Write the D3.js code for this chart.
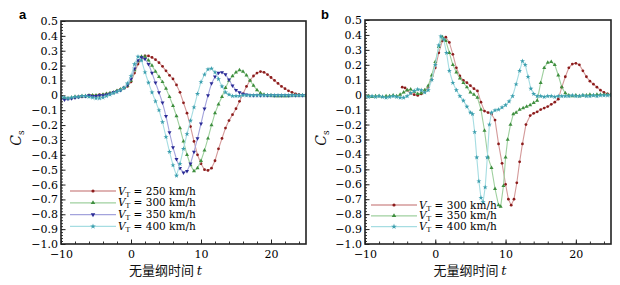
<!DOCTYPE html>
<html>
<head>
<meta charset="utf-8">
<script src="https://cdn.jsdelivr.net/npm/d3@7"></script>
<style>
  body { margin: 0; background: #fff; }
  svg { display: block; }
</style>
</head>
<body>
<svg id="chart"></svg>
<script>
// ---- data: [t, Cs] ----
const a250 = [[-10,-0.015],[-9.5,-0.02],[-9,-0.02],[-8.5,-0.02],[-8,-0.015],[-7.5,-0.01],[-7,-0.01],[-6.5,-0.005],[-6,0],[-5.5,0],[-5,0],[-4.5,0.005],[-4,0.005],[-3.5,0.01],[-3,0.015],[-2.5,0.02],[-2,0.03],[-1.5,0.04],[-1,0.05],[-0.5,0.06],[0,0.09],[0.5,0.15],[1,0.21],[1.5,0.25],[2,0.265],[2.5,0.265],[3,0.255],[3.5,0.24],[4,0.22],[4.5,0.195],[5,0.165],[5.5,0.135],[6,0.11],[6.5,0.07],[7,0.02],[7.5,-0.05],[8,-0.12],[8.5,-0.21],[9,-0.31],[9.5,-0.4],[10,-0.46],[10.5,-0.5],[11,-0.505],[11.5,-0.49],[12,-0.44],[12.5,-0.36],[13,-0.29],[13.5,-0.22],[14,-0.17],[14.5,-0.13],[15,-0.09],[15.5,-0.04],[16,0.01],[16.5,0.06],[17,0.1],[17.5,0.13],[18,0.15],[18.5,0.16],[19,0.155],[19.5,0.14],[20,0.12],[20.5,0.1],[21,0.08],[21.5,0.06],[22,0.045],[22.5,0.03],[23,0.02],[23.5,0.01],[24,0.005],[24.5,0],[25,0]];
const a300 = [[-10,-0.015],[-9.5,-0.02],[-9,-0.02],[-8.5,-0.015],[-8,-0.01],[-7.5,-0.01],[-7,-0.005],[-6.5,-0.005],[-6,0],[-5.5,0],[-5,0],[-4.5,0],[-4,0.005],[-3.5,0.01],[-3,0.015],[-2.5,0.02],[-2,0.03],[-1.5,0.04],[-1,0.05],[-0.5,0.065],[0,0.1],[0.5,0.17],[1,0.23],[1.5,0.26],[2,0.26],[2.5,0.235],[3,0.2],[3.5,0.16],[4,0.125],[4.5,0.09],[5,0.045],[5.5,-0.01],[6,-0.07],[6.5,-0.14],[7,-0.22],[7.5,-0.31],[8,-0.4],[8.5,-0.47],[9,-0.51],[9.5,-0.49],[10,-0.44],[10.5,-0.37],[11,-0.29],[11.5,-0.2],[12,-0.12],[12.5,-0.06],[13,-0.01],[13.5,0.05],[14,0.1],[14.5,0.13],[15,0.155],[15.5,0.17],[16,0.16],[16.5,0.135],[17,0.1],[17.5,0.065],[18,0.035],[18.5,0.015],[19,0.005],[19.5,0],[20,0],[20.5,-0.005],[21,-0.005],[21.5,-0.005],[22,-0.005],[22.5,-0.005],[23,0],[23.5,0],[24,0],[24.5,0],[25,0]];
const a350 = [[-10,-0.025],[-9.5,-0.03],[-9,-0.025],[-8.5,-0.02],[-8,-0.015],[-7.5,-0.01],[-7,-0.005],[-6.5,-0.005],[-6,0],[-5.5,-0.005],[-5,-0.005],[-4.5,0],[-4,0],[-3.5,0.005],[-3,0.01],[-2.5,0.02],[-2,0.025],[-1.5,0.035],[-1,0.05],[-0.5,0.07],[0,0.11],[0.5,0.18],[1,0.235],[1.5,0.255],[2,0.245],[2.5,0.21],[3,0.15],[3.5,0.085],[4,0.02],[4.5,-0.05],[5,-0.14],[5.5,-0.25],[6,-0.35],[6.5,-0.43],[7,-0.49],[7.5,-0.52],[8,-0.51],[8.5,-0.46],[9,-0.38],[9.5,-0.29],[10,-0.19],[10.5,-0.09],[11,0],[11.5,0.08],[12,0.125],[12.5,0.15],[13,0.155],[13.5,0.14],[14,0.105],[14.5,0.065],[15,0.035],[15.5,0.02],[16,0.01],[16.5,0.005],[17,0],[17.5,0],[18,0],[18.5,0],[19,0],[19.5,0],[20,0],[20.5,0],[21,0],[21.5,0],[22,0],[22.5,0],[23,0],[23.5,0],[24,0],[24.5,0],[25,0]];
const a400 = [[-10,-0.01],[-9.5,-0.015],[-9,-0.02],[-8.5,-0.015],[-8,-0.01],[-7.5,-0.01],[-7,-0.005],[-6.5,-0.005],[-6,-0.01],[-5.5,-0.015],[-5,-0.02],[-4.5,-0.02],[-4,-0.015],[-3.5,-0.005],[-3,0.005],[-2.5,0.015],[-2,0.025],[-1.5,0.035],[-1,0.05],[-0.5,0.08],[0,0.13],[0.5,0.21],[1,0.26],[1.5,0.235],[2,0.155],[2.5,0.085],[3,0.02],[3.5,-0.04],[4,-0.1],[4.5,-0.18],[5,-0.28],[5.5,-0.38],[6,-0.47],[6.5,-0.54],[7,-0.46],[7.5,-0.36],[8,-0.26],[8.5,-0.17],[9,-0.08],[9.5,0.01],[10,0.09],[10.5,0.14],[11,0.175],[11.5,0.18],[12,0.155],[12.5,0.11],[13,0.06],[13.5,0.02],[14,0.005],[14.5,-0.005],[15,-0.005],[15.5,-0.005],[16,0],[16.5,0],[17,0],[17.5,0],[18,0],[18.5,0],[19,0],[19.5,0],[20,0],[20.5,0],[21,0],[21.5,0],[22,0],[22.5,0],[23,0],[23.5,0],[24,0],[24.5,0],[25,0]];

const b300 = [[-4.7,0.05],[-4.3,0.045],[-4,0.03],[-3.5,0.01],[-3,0],[-2.5,-0.005],[-2,0.005],[-1.5,0.02],[-1,0.05],[-0.5,0.1],[0,0.18],[0.5,0.28],[1,0.36],[1.5,0.385],[2,0.35],[2.5,0.27],[3,0.18],[3.5,0.125],[4,0.095],[4.5,0.08],[5,0.06],[5.5,0.04],[6,0.025],[6.5,-0.05],[7,-0.11],[7.5,-0.12],[8,-0.13],[8.5,-0.17],[9,-0.33],[9.5,-0.46],[10,-0.6],[10.4,-0.7],[10.8,-0.74],[11.2,-0.7],[11.6,-0.59],[12,-0.45],[12.4,-0.33],[12.9,-0.2],[13.5,-0.14],[14,-0.125],[14.5,-0.115],[15,-0.1],[15.5,-0.09],[16,-0.08],[16.5,-0.065],[17,-0.05],[17.5,-0.03],[18,0.05],[18.5,0.12],[19,0.18],[19.5,0.205],[20,0.21],[20.5,0.2],[21,0.16],[21.5,0.12],[22,0.09],[22.5,0.07],[23,0.05],[23.5,0.03],[24,0.015],[24.5,0.005],[25,0]];
const b350 = [[-10,-0.01],[-9.5,-0.01],[-9,-0.015],[-8.5,-0.01],[-8,-0.01],[-7.5,-0.015],[-7,-0.01],[-6.5,-0.01],[-6,-0.005],[-5.5,-0.01],[-5,0],[-4.5,0.015],[-4,0.03],[-3.5,0.035],[-3,0.02],[-2.5,0.005],[-2,0.01],[-1.5,0.03],[-1,0.06],[-0.5,0.13],[0,0.22],[0.5,0.32],[1,0.385],[1.5,0.36],[2,0.28],[2.5,0.2],[3,0.15],[3.5,0.11],[4,0.08],[4.5,0.05],[5,0.015],[5.5,0],[6,-0.02],[6.5,-0.1],[7,-0.24],[7.5,-0.42],[8,-0.49],[8.5,-0.63],[9,-0.74],[9.3,-0.75],[9.7,-0.61],[10,-0.42],[10.3,-0.3],[10.7,-0.2],[11.1,-0.13],[11.5,-0.12],[12,-0.1],[12.5,-0.09],[13,-0.08],[13.5,-0.07],[14,-0.055],[14.5,-0.04],[15,0.08],[15.5,0.18],[16,0.215],[16.5,0.22],[17,0.2],[17.5,0.13],[18,0.05],[18.5,0.01],[19,-0.005],[19.5,-0.01],[20,-0.005],[20.5,-0.01],[21,-0.005],[21.5,-0.005],[22,0],[22.5,-0.005],[23,0],[23.5,0],[24,0],[24.5,0],[25,0]];
const b400 = [[-10,-0.01],[-9.5,-0.015],[-9,-0.01],[-8.5,-0.015],[-8,-0.01],[-7.5,-0.015],[-7,-0.02],[-6.5,-0.015],[-6,-0.01],[-5.5,-0.015],[-5,-0.02],[-4.5,-0.02],[-4,-0.01],[-3.5,0.01],[-3,0.025],[-2.5,0.035],[-2,0.03],[-1.5,0.015],[-1,0.03],[-0.5,0.1],[0,0.2],[0.5,0.33],[0.8,0.39],[1.2,0.37],[1.6,0.28],[2,0.16],[2.5,0.08],[3,0.03],[3.5,-0.01],[4,-0.04],[4.5,-0.08],[5,-0.12],[5.3,-0.13],[5.6,-0.25],[5.9,-0.42],[6.2,-0.58],[6.5,-0.69],[6.8,-0.72],[7.1,-0.62],[7.4,-0.42],[7.7,-0.2],[8,-0.12],[8.5,-0.105],[9,-0.1],[9.5,-0.085],[10,-0.07],[10.5,-0.045],[11,-0.01],[11.5,0.07],[12,0.16],[12.4,0.225],[12.8,0.2],[13.2,0.12],[13.6,0.04],[14,0.005],[14.5,-0.01],[15,-0.01],[15.5,-0.015],[16,-0.01],[16.5,-0.01],[17,-0.015],[17.5,-0.01],[18,-0.01],[18.5,-0.01],[19,-0.01],[19.5,-0.005],[20,-0.01],[20.5,-0.01],[21,-0.005],[21.5,-0.01],[22,-0.01],[22.5,-0.005],[23,-0.01],[23.5,-0.005],[24,-0.005],[24.5,-0.005],[25,-0.005]];

const speedsA = [250, 300, 350, 400];
const speedsB = [300, 350, 400];
const xTicks = [-10, 0, 10, 20];
const yTicks = [0.5, 0.4, 0.3, 0.2, 0.1, 0, -0.1, -0.2, -0.3, -0.4, -0.5, -0.6, -0.7, -0.8, -0.9, -1.0];
const xLabel = '无量纲时间 ';

const serif = '"DejaVu Serif", "Liberation Serif", serif';

// marker / line styles
const styles = {
    red:   { line: '#d49a9a', mark: '#8c1c1c', shape: d3.symbolCircle, size: 6, rot: 0 },
    green: { line: '#9fd09f', mark: '#3e8e3e', shape: d3.symbolTriangle, size: 7, rot: 0 },
    blue:  { line: '#a3a3dc', mark: '#2b2b96', shape: d3.symbolTriangle, size: 7, rot: 180 },
    cyan:  { line: '#a6dde2', mark: '#3c9fae', shape: d3.symbolStar, size: 8, rot: 0 }
};

const svg = d3.select('#chart').attr('width', 620).attr('height', 285);
svg.append('rect').attr('width', 620).attr('height', 285).attr('fill', '#fff');

function drawPanel(cfg) {
    const g = svg.append('g');
    const x = d3.scaleLinear().domain([-10, 25]).range([cfg.left, cfg.right]);
    const y = d3.scaleLinear().domain([-1, 0.5]).range([cfg.bottom, cfg.top]);

    const clipId = 'clip-' + cfg.name;
    svg.append('clipPath').attr('id', clipId)
        .append('rect')
        .attr('x', cfg.left).attr('y', cfg.top)
        .attr('width', cfg.right - cfg.left).attr('height', cfg.bottom - cfg.top);

    // minor ticks
    g.append('g')
        .attr('transform', `translate(${cfg.left},0)`)
        .call(d3.axisLeft(y).tickValues(d3.range(-1, 0.501, 0.02)).tickSize(-2).tickFormat(''))
        .call(a => a.select('.domain').remove())
        .selectAll('line').attr('stroke', '#333');
    g.append('g')
        .attr('transform', `translate(0,${cfg.bottom})`)
        .call(d3.axisBottom(x).tickValues(d3.range(-10, 25.1, 2)).tickSize(-2.5).tickFormat(''))
        .call(a => a.select('.domain').remove())
        .selectAll('line').attr('stroke', '#333');

    // major ticks + labels
    const fmtY = d => d === 0 ? '0' : d3.format('.1f')(d);
    const yAx = g.append('g')
        .attr('transform', `translate(${cfg.left},0)`)
        .call(d3.axisLeft(y).tickValues(yTicks).tickSize(-4.5).tickPadding(3).tickFormat(fmtY));
    yAx.select('.domain').remove();
    yAx.selectAll('line').attr('stroke', '#222').attr('stroke-width', 1);
    yAx.selectAll('text')
        .attr('font-family', serif)
        .attr('font-size', 11).attr('fill', '#000');

    const xAx = g.append('g')
        .attr('transform', `translate(0,${cfg.bottom})`)
        .call(d3.axisBottom(x).tickValues(xTicks).tickSize(-4.5).tickPadding(cfg.xPad).tickFormat(d3.format('d')));
    xAx.select('.domain').remove();
    xAx.selectAll('line').attr('stroke', '#222');
    xAx.selectAll('text')
        .attr('font-family', serif)
        .attr('font-size', 11).attr('fill', '#000');

    // series
    const plot = g.append('g').attr('clip-path', `url(#${clipId})`);
    const line = d3.line().x(d => x(d[0])).y(d => y(d[1]));
    cfg.series.forEach(s => {
        const st = styles[s.color];
        plot.append('path')
            .datum(s.data)
            .attr('fill', 'none')
            .attr('stroke', st.line)
            .attr('stroke-width', 1.1)
            .attr('d', line);
        plot.append('g').selectAll('path')
            .data(s.data)
            .join('path')
            .attr('transform', d => `translate(${x(d[0])},${y(d[1])}) rotate(${st.rot})`)
            .attr('d', d3.symbol().type(st.shape).size(st.size))
            .attr('fill', st.mark);
    });

    // frame
    g.append('rect')
        .attr('x', cfg.left).attr('y', cfg.top)
        .attr('width', cfg.right - cfg.left).attr('height', cfg.bottom - cfg.top)
        .attr('fill', 'none').attr('stroke', '#222').attr('stroke-width', 1.6);

    // legend
    cfg.series.forEach((s, i) => {
        const st = styles[s.color];
        const ly = cfg.legY + i * cfg.legStep;
        g.append('line')
            .attr('x1', cfg.legX).attr('x2', cfg.legX + 46)
            .attr('y1', ly).attr('y2', ly)
            .attr('stroke', st.line).attr('stroke-width', 1.3);
        g.append('path')
            .attr('transform', `translate(${cfg.legX + 23},${ly}) rotate(${st.rot})`)
            .attr('d', d3.symbol().type(st.shape).size(st.size + 2))
            .attr('fill', st.mark);
        const t = g.append('text')
            .attr('x', cfg.legX + 48).attr('y', ly + 3.5)
            .attr('font-family', serif)
            .attr('font-size', 10.5).attr('fill', '#000');
        t.append('tspan').attr('font-style', 'italic').text('V');
        t.append('tspan').attr('font-size', 7).attr('dy', 2).text('T');
        t.append('tspan').attr('dy', -2).text(` = ${s.speed} km/h`);
    });

    // panel letter
    g.append('text')
        .attr('x', cfg.letterX).attr('y', 19)
        .attr('font-family', '"Liberation Sans", Arial, sans-serif')
        .attr('font-weight', 'bold').attr('font-size', 13)
        .text(cfg.name);

    // axis titles
    const xt = g.append('text')
        .attr('x', (cfg.left + cfg.right) / 2 - 18).attr('y', 275)
        .attr('text-anchor', 'middle')
        .attr('font-family', '"Noto Sans CJK SC", sans-serif')
        .attr('font-size', 13).attr('fill', '#111');
    xt.append('tspan').text(xLabel);
    xt.append('tspan').attr('font-family', serif).attr('font-style', 'italic').text('t');

    const yt = g.append('text')
        .attr('transform', `translate(${cfg.yTitleX},138) rotate(-90)`)
        .attr('text-anchor', 'middle')
        .attr('font-family', serif)
        .attr('font-size', 14).attr('fill', '#111');
    yt.append('tspan').attr('font-style', 'italic').text('C');
    yt.append('tspan').attr('font-size', 9).attr('dy', 3).text('s');
}

drawPanel({
    name: 'a', left: 61, right: 306, top: 21, bottom: 244, xPad: 6.5,
    letterX: 19, yTitleX: 21, legX: 70, legY: 191, legStep: 11.8,
    series: [
        { speed: speedsA[0], data: a250, color: 'red' },
        { speed: speedsA[1], data: a300, color: 'green' },
        { speed: speedsA[2], data: a350, color: 'blue' },
        { speed: speedsA[3], data: a400, color: 'cyan' }
    ]
});

drawPanel({
    name: 'b', left: 365, right: 611, top: 20, bottom: 244, xPad: 6.5,
    letterX: 321, yTitleX: 326, legX: 371, legY: 205, legStep: 10.8,
    series: [
        { speed: speedsB[0], data: b300, color: 'red' },
        { speed: speedsB[1], data: b350, color: 'green' },
        { speed: speedsB[2], data: b400, color: 'cyan' }
    ]
});
</script>
</body>
</html>
